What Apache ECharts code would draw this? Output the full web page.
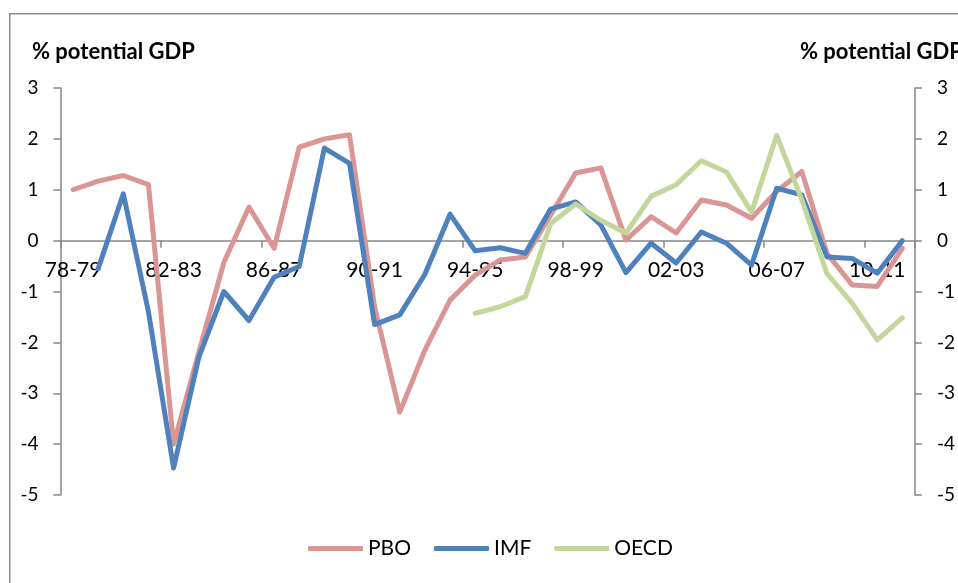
<!DOCTYPE html>
<html>
<head>
<meta charset="utf-8">
<style>
html,body{margin:0;padding:0;background:#fff;}
#c{width:958px;height:583px;}
</style>
<script src="https://cdn.jsdelivr.net/npm/echarts@6/dist/echarts.min.js"></script>
</head>
<body>
<div id="c"></div>
<script>
var categories = ['78-79','79-80','80-81','81-82','82-83','83-84','84-85','85-86','86-87','87-88',
  '88-89','89-90','90-91','91-92','92-93','93-94','94-95','95-96','96-97','97-98',
  '98-99','99-00','00-01','01-02','02-03','03-04','04-05','05-06','06-07','07-08',
  '08-09','09-10','10-11','11-12'];
var pbo = [1.0, 1.17, 1.28, 1.1, -4.0, -2.2, -0.43, 0.66, -0.15, 1.84,
  2.0, 2.08, -1.3, -3.37, -2.15, -1.17, -0.68, -0.38, -0.32, 0.5,
  1.33, 1.43, 0.01, 0.47, 0.15, 0.8, 0.7, 0.44, 0.97, 1.36,
  -0.25, -0.87, -0.9, -0.15];
var imf = [null, -0.55, 0.92, -1.4, -4.47, -2.3, -1.0, -1.57, -0.72, -0.51,
  1.82, 1.52, -1.65, -1.46, -0.66, 0.52, -0.2, -0.14, -0.25, 0.62,
  0.76, 0.31, -0.63, -0.05, -0.44, 0.17, -0.05, -0.48, 1.03, 0.9,
  -0.32, -0.35, -0.64, 0.0];
var oecd = [null, null, null, null, null, null, null, null, null, null,
  null, null, null, null, null, null, -1.43, -1.3, -1.1, 0.33,
  0.72, 0.4, 0.15, 0.87, 1.1, 1.57, 1.35, 0.56, 2.07, 0.8,
  -0.65, -1.23, -1.95, -1.52];
var seriesNames = ['PBO', 'IMF', 'OECD'];
var yTitle = '% potential GDP';

var FONT = 'Lato, "Liberation Sans", sans-serif';
var axisGray = '#868686';
var colors = ['#D99694', '#4F81BD', '#C3D69B'];

var Y_MIN = -5, Y_MAX = 3;
var GRID_TOP = 88, GRID_BOTTOM = 88, H = 583;
var plotH = H - GRID_TOP - GRID_BOTTOM;
var zeroOffset = -plotH * (0 - Y_MIN) / (Y_MAX - Y_MIN);

var chart = echarts.init(document.getElementById('c'), null, {renderer: 'canvas'});

function yAxisDef(pos) {
  return {
    type: 'value', position: pos, min: Y_MIN, max: Y_MAX, interval: 1,
    splitLine: {show: false},
    axisLine: {show: true, lineStyle: {color: axisGray, width: 1.5}},
    axisTick: {show: true, length: 7, lineStyle: {color: axisGray, width: 1.5}},
    axisLabel: {color: '#000', fontFamily: FONT, fontSize: 19, margin: 22}
  };
}

var titleStyle = {fontFamily: FONT, fontWeight: 'bold', fontSize: 22, color: '#000'};

var option = {
  animation: false,
  color: colors,
  graphic: [{
    type: 'rect', silent: true, z: 0,
    shape: {x: 9.75, y: 13.75, width: 1200, height: 1200},
    style: {fill: 'none', stroke: '#8c8c8c', lineWidth: 1.5}
  }],
  title: [
    {text: yTitle, left: 32, top: 41, padding: 0, textStyle: titleStyle},
    {text: yTitle, left: 800, top: 41, padding: 0, textStyle: titleStyle}
  ],
  legend: {
    left: 308, top: 538, padding: 0,
    icon: 'roundRect',
    itemWidth: 55, itemHeight: 5, itemGap: 23,
    textStyle: {fontFamily: FONT, fontSize: 21, color: '#000'},
    data: seriesNames
  },
  grid: {left: 60.5, right: 35, top: GRID_TOP, bottom: GRID_BOTTOM, containLabel: false},
  xAxis: {
    type: 'category', data: categories, boundaryGap: true,
    position: 'bottom', offset: zeroOffset,
    axisLine: {onZero: false, lineStyle: {color: axisGray, width: 1.5}},
    axisTick: {show: true, interval: 3, length: 7, alignWithLabel: false, lineStyle: {color: axisGray, width: 1.5}},
    axisLabel: {interval: 3, color: '#000', fontFamily: FONT, fontSize: 21, margin: 19}
  },
  yAxis: [yAxisDef('left'), yAxisDef('right')],
  series: [pbo, imf, oecd].map(function (d, i) {
    return {
      name: seriesNames[i], type: 'line', data: d, yAxisIndex: 0,
      symbol: 'none', connectNulls: false,
      lineStyle: {width: 5, color: colors[i], cap: 'round', join: 'round'},
      itemStyle: {color: colors[i]}
    };
  })
};
chart.setOption(option);
</script>
</body>
</html>
